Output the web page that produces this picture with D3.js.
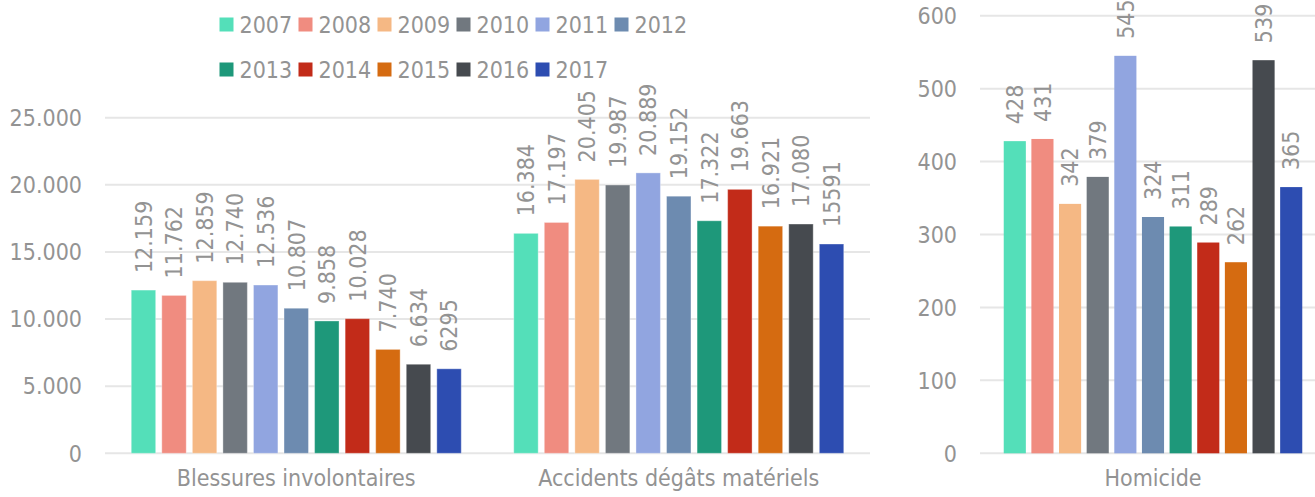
<!DOCTYPE html>
<html><head><meta charset="utf-8">
<script src="https://cdn.jsdelivr.net/npm/d3@7"></script>
<style>
body{margin:0;background:#fff}
text{font-family:"DejaVu Sans Condensed","DejaVu Sans",sans-serif;font-stretch:condensed;fill:#939393}
</style>
</head><body>
<svg id="c" width="1315" height="497"></svg>
<script>
const years = ["2007","2008","2009","2010","2011","2012","2013","2014","2015","2016","2017"];
const colors = ["#54dfb9","#f08c80","#f5b884","#71787f","#91a5e0","#6d8bb0","#1e987a","#c22b19","#d56b11","#464a4f","#2d4db1"];
const leftCategories = ["Blessures involontaires","Accidents dégâts matériels"];
const blessures = [12159,11762,12859,12740,12536,10807,9858,10028,7740,6634,6295];
const blessuresLabels = ["12.159","11.762","12.859","12.740","12.536","10.807","9.858","10.028","7.740","6.634","6295"];
const accidents = [16384,17197,20405,19987,20889,19152,17322,19663,16921,17080,15591];
const accidentsLabels = ["16.384","17.197","20.405","19.987","20.889","19.152","17.322","19.663","16.921","17.080","15591"];
const rightCategories = ["Homicide"];
const homicide = [428,431,342,379,545,324,311,289,262,539,365];
const homicideLabels = ["428","431","342","379","545","324","311","289","262","539","365"];
const leftTicks = [0,5000,10000,15000,20000,25000];
const rightTicks = [0,100,200,300,400,500,600];

const svg = d3.select("#c");
const FS = 23;
const fmt = d3.formatLocale({decimal:",",thousands:".",grouping:[3],currency:["",""]}).format(",");

function panel(cats, values, labels, xr, yDomain, yr, ticks, tickX, outline){
  const g = svg.append("g");
  const x0 = d3.scaleBand().domain(cats).range(xr).padding(0);
  const inset = x0.bandwidth()*0.0686;
  const x1 = d3.scaleBand().domain(years).range([inset, x0.bandwidth()-inset]).paddingInner(0.2).paddingOuter(0);
  const y = d3.scaleLinear().domain(yDomain).range(yr);
  g.selectAll("line.grid").data(ticks).join("line")
    .attr("x1", xr[0]).attr("x2", xr[1])
    .attr("y1", d=>y(d)).attr("y2", d=>y(d))
    .attr("stroke","#e6e6e6").attr("stroke-width",2);
  g.selectAll("text.tick").data(ticks).join("text")
    .attr("x", tickX).attr("y", d=>y(d)).attr("dy","0.36em")
    .attr("text-anchor","end").style("font-size",FS+"px").text(d=>fmt(d));
  cats.forEach((c,ci)=>{
    const cg = g.append("g").attr("transform",`translate(${x0(c)},0)`);
    const rows = years.map((yr_,i)=>({yr:yr_, v:values[ci][i], l:labels[ci][i], col:colors[i]}));
    cg.selectAll("rect").data(rows).join("rect")
      .attr("x", d=>x1(d.yr)).attr("width", x1.bandwidth())
      .attr("y", d=>y(d.v)).attr("height", d=>y(0)-y(d.v))
      .attr("fill", d=>d.col)
      .attr("stroke", outline ? "rgba(255,255,255,0.35)" : "none")
      .attr("stroke-width", 1);
    cg.selectAll("text.lab").data(rows).join("text")
      .attr("transform", d=>`translate(${x1(d.yr)+x1.bandwidth()/2},${y(d.v)-17}) rotate(-90)`)
      .attr("dy","0.36em").attr("text-anchor","start").style("font-size",FS+"px")
      .text(d=>d.l);
    g.append("text").attr("x", x0(c)+x0.bandwidth()/2).attr("y", 486)
      .attr("text-anchor","middle").style("font-size",FS+"px").text(c);
  });
}

panel(leftCategories, [blessures, accidents], [blessuresLabels, accidentsLabels],
      [105,870], [0,25000], [453.3,117.7], leftTicks, 82, true);
panel(rightCategories, [homicide], [homicideLabels],
      [980,1326], [0,600], [453.3,15.7], rightTicks, 957, false);

// legend
const lg = svg.append("g");
const items = years.map((yv,i)=>({y:yv, c:colors[i], row: i<6?0:1, col: i<6?i:i-6}));
const li = lg.selectAll("g").data(items).join("g")
  .attr("transform", d=>`translate(${219.5+d.col*79},${17.5+d.row*45})`);
li.append("rect").attr("width",14).attr("height",14).attr("fill",d=>d.c);
li.append("text").attr("x",20).attr("y",7).attr("dy","0.36em").style("font-size",FS+"px").text(d=>d.y);
</script>
</body></html>
